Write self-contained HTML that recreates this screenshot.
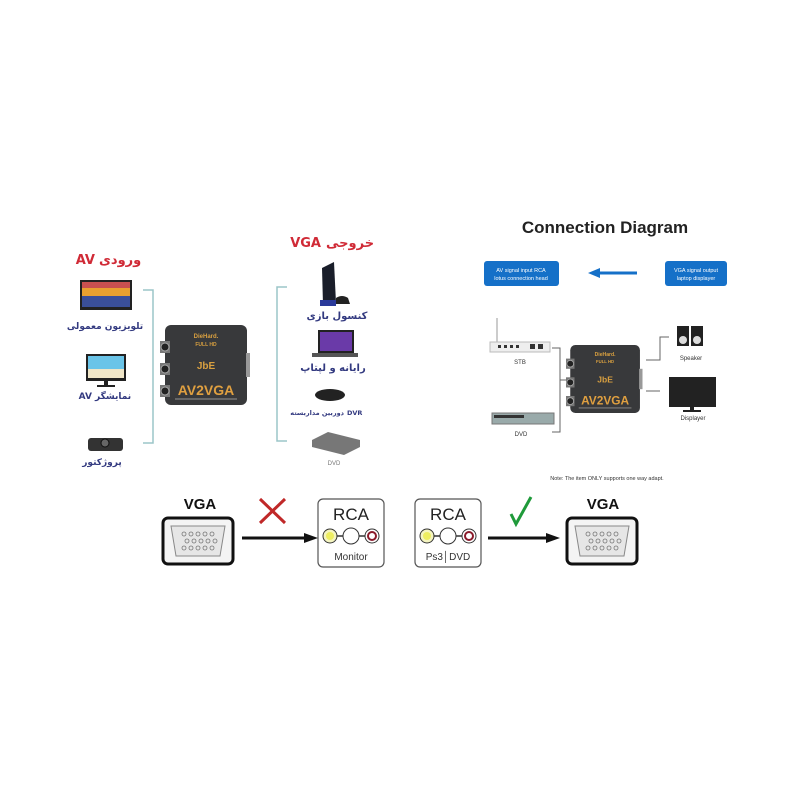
<!DOCTYPE html>
<html><head><meta charset="utf-8"><style>
html,body{margin:0;padding:0;background:#fff;width:800px;height:800px;overflow:hidden}
svg{display:block}
text{font-family:"Liberation Sans","Noto Sans CJK SC",sans-serif}
.fa{font-family:"DejaVu Sans","Liberation Sans",sans-serif;font-weight:bold}
</style></head><body>
<svg width="800" height="800" viewBox="0 0 800 800" xmlns="http://www.w3.org/2000/svg">
<defs>
<g id="dev">
  <rect x="5" y="0" width="82" height="80" rx="6" fill="#38393b"/>
  <rect x="0" y="16" width="10" height="12" fill="#777"/><circle cx="5" cy="22" r="4" fill="#222" stroke="#aaa"/>
  <rect x="0" y="38" width="10" height="12" fill="#777"/><circle cx="5" cy="44" r="4" fill="#222" stroke="#aaa"/>
  <rect x="0" y="60" width="10" height="12" fill="#777"/><circle cx="5" cy="66" r="4" fill="#222" stroke="#aaa"/>
  <rect x="86" y="28" width="4" height="24" fill="#999"/>
  <text x="46" y="13" font-size="6" fill="#d9a040" text-anchor="middle" font-weight="bold">DieHard.</text>
  <text x="46" y="21" font-size="5" fill="#d9a040" text-anchor="middle" font-weight="bold">FULL HD</text>
  <text x="46" y="44" font-size="10" fill="#d9a040" text-anchor="middle" font-weight="bold">JbE</text>
  <text x="46" y="70" font-size="14" fill="#e0a040" text-anchor="middle" font-weight="bold">AV2VGA</text>
  <rect x="15" y="73" width="62" height="2" fill="#666"/>
</g>
<g id="vga">
  <rect x="0" y="0" width="70" height="46" rx="5" fill="#f4f4f4" stroke="#111" stroke-width="3"/>
  <path d="M8 8 H62 L57 38 H13 Z" fill="#e6e6e6" stroke="#888"/>
  <g fill="none" stroke="#777" stroke-width="0.8">
   <circle cx="21" cy="16" r="2"/><circle cx="28" cy="16" r="2"/><circle cx="35" cy="16" r="2"/><circle cx="42" cy="16" r="2"/><circle cx="49" cy="16" r="2"/>
   <circle cx="24" cy="23" r="2"/><circle cx="31" cy="23" r="2"/><circle cx="38" cy="23" r="2"/><circle cx="45" cy="23" r="2"/><circle cx="52" cy="23" r="2"/>
   <circle cx="21" cy="30" r="2"/><circle cx="28" cy="30" r="2"/><circle cx="35" cy="30" r="2"/><circle cx="42" cy="30" r="2"/><circle cx="49" cy="30" r="2"/>
  </g>
</g>
<g id="rca">
  <rect x="0" y="0" width="66" height="68" rx="5" fill="#fff" stroke="#555" stroke-width="1.2"/>
  <text x="33" y="21" font-size="17" fill="#222" text-anchor="middle">RCA</text>
  <line x1="12" y1="37" x2="54" y2="37" stroke="#333" stroke-width="1.5"/>
  <circle cx="12" cy="37" r="7" fill="#f5f5c0" stroke="#333"/><circle cx="12" cy="37" r="4" fill="#eeee60"/>
  <circle cx="33" cy="37" r="8" fill="#fff" stroke="#333"/>
  <circle cx="54" cy="37" r="7" fill="#fff" stroke="#333"/><circle cx="54" cy="37" r="4" fill="#fff" stroke="#8a1a2a" stroke-width="2"/>
</g>
</defs>

<!-- LEFT SECTION -->
<text x="95" y="264" class="fa" font-size="13" fill="#d02a36" text-anchor="end">AV</text>
<text x="99" y="264" class="fa" font-size="13" fill="#d02a36" text-anchor="start">ورودی</text>
<text x="321" y="247" class="fa" font-size="13" fill="#d02a36" text-anchor="end">VGA</text>
<text x="326" y="247" class="fa" font-size="13" fill="#d02a36" text-anchor="start">خروجی</text>

<!-- TV -->
<rect x="80" y="280" width="52" height="30" fill="#222"/>
<rect x="82" y="282" width="48" height="25" fill="#e8a030"/>
<rect x="82" y="296" width="48" height="11" fill="#3a4f9a"/>
<rect x="82" y="282" width="48" height="6" fill="#c85050"/>
<text x="105" y="329" class="fa" font-size="9" fill="#333a80" text-anchor="middle">تلویزیون معمولی</text>
<!-- Monitor -->
<rect x="86" y="354" width="40" height="27" fill="#222"/>
<rect x="88" y="356" width="36" height="22" fill="#6ac4e8"/>
<rect x="88" y="369" width="36" height="9" fill="#f0e6c8"/>
<rect x="104" y="381" width="4" height="4" fill="#222"/><rect x="97" y="385" width="18" height="2" fill="#222"/>
<text x="92" y="399" class="fa" font-size="9" fill="#333a80" text-anchor="end">AV</text>
<text x="95" y="399" class="fa" font-size="9" fill="#333a80" text-anchor="start">نمایشگر</text>
<!-- projector -->
<rect x="88" y="438" width="35" height="13" rx="3" fill="#333"/>
<circle cx="105" cy="443" r="4" fill="#666" stroke="#111"/>
<text x="102" y="465" class="fa" font-size="9" fill="#333a80" text-anchor="middle">پروژکتور</text>

<polyline points="143,290 153,290 153,443 143,443" fill="none" stroke="#9bc5c8" stroke-width="1.5"/>
<use href="#dev" x="160" y="325"/>
<polyline points="287,287 277,287 277,441 287,441" fill="none" stroke="#9bc5c8" stroke-width="1.5"/>

<!-- PS -->
<path d="M322 268 L334 262 L336 303 L323 305 Z" fill="#1a1e2a"/>
<rect x="320" y="300" width="16" height="6" fill="#2a3a9a"/>
<path d="M336 298 q6 -4 12 0 l2 6 h-14 Z" fill="#222"/>
<text x="337" y="319" class="fa" font-size="10" fill="#333a80" text-anchor="middle">کنسول بازی</text>
<!-- laptop -->
<rect x="318" y="330" width="36" height="23" fill="#222"/>
<rect x="320" y="332" width="32" height="19" fill="#6a3aa8"/>
<rect x="312" y="353" width="46" height="4" fill="#555"/>
<text x="333" y="371" class="fa" font-size="10" fill="#333a80" text-anchor="middle">رایانه و لپتاپ</text>
<!-- receiver -->
<ellipse cx="330" cy="395" rx="15" ry="6" fill="#222"/>
<text x="344" y="415" class="fa" font-size="6.5" fill="#333a80" text-anchor="end">دوربین مداربسته</text>
<text x="347" y="415" class="fa" font-size="6.5" fill="#333a80" text-anchor="start">DVR</text>
<!-- DVD -->
<path d="M312 440 L328 432 L360 440 L360 447 L344 455 L312 447 Z" fill="#777"/>
<text x="334" y="465" font-size="6" fill="#777" text-anchor="middle">DVD</text>

<!-- RIGHT SECTION -->
<text x="605" y="233" font-size="17" font-weight="bold" fill="#222" text-anchor="middle">Connection Diagram</text>
<rect x="484" y="261" width="75" height="25" rx="3" fill="#1570c8"/>
<text x="521" y="272" font-size="5.5" fill="#fff" text-anchor="middle">AV signal input RCA</text>
<text x="521" y="280" font-size="5.5" fill="#fff" text-anchor="middle">lotus connection head</text>
<rect x="665" y="261" width="62" height="25" rx="3" fill="#1570c8"/>
<text x="696" y="272" font-size="5.5" fill="#fff" text-anchor="middle">VGA signal output</text>
<text x="696" y="280" font-size="5.5" fill="#fff" text-anchor="middle">laptop displayer</text>
<line x1="598" y1="273" x2="637" y2="273" stroke="#1570c8" stroke-width="3"/>
<polygon points="588,273 600,268 600,278" fill="#1570c8"/>

<!-- STB -->
<rect x="496" y="318" width="2" height="26" fill="#ccc"/>
<rect x="490" y="342" width="60" height="10" fill="#eee" stroke="#bbb"/>
<g fill="#333"><rect x="498" y="345" width="3" height="3"/><rect x="504" y="345" width="3" height="3"/><rect x="510" y="345" width="3" height="3"/><rect x="516" y="345" width="3" height="3"/><rect x="530" y="344" width="5" height="5"/><rect x="538" y="344" width="5" height="5"/></g>
<text x="520" y="364" font-size="6" fill="#333" text-anchor="middle">STB</text>
<!-- DVD -->
<rect x="492" y="413" width="62" height="11" fill="#9aa" stroke="#777"/>
<rect x="494" y="415" width="30" height="3" fill="#333"/>
<text x="521" y="436" font-size="6" fill="#333" text-anchor="middle">DVD</text>
<polyline points="552,348 560,348 560,432 552,432" fill="none" stroke="#666" stroke-width="1"/>
<line x1="560" y1="380" x2="566" y2="380" stroke="#666" stroke-width="1"/>
<use href="#dev" x="566" y="345" transform="translate(566 345) scale(0.85) translate(-566 -345)"/>
<!-- speaker -->
<polyline points="646,360 660,360 660,337 669,337" fill="none" stroke="#666"/>
<rect x="677" y="326" width="12" height="20" fill="#222"/><circle cx="683" cy="340" r="4" fill="#ddd"/>
<rect x="691" y="326" width="12" height="20" fill="#222"/><circle cx="697" cy="340" r="4" fill="#ddd"/>
<text x="691" y="360" font-size="6" fill="#333" text-anchor="middle">Speaker</text>
<!-- displayer -->
<line x1="646" y1="391" x2="660" y2="391" stroke="#666"/>
<rect x="669" y="377" width="47" height="30" fill="#222"/>
<rect x="690" y="407" width="4" height="4" fill="#222"/><rect x="683" y="410" width="18" height="2" fill="#222"/>
<text x="693" y="420" font-size="6" fill="#333" text-anchor="middle">Displayer</text>
<text x="607" y="480" font-size="5.5" fill="#333" text-anchor="middle">Note: The item ONLY supports one way adapt.</text>

<!-- BOTTOM -->
<text x="200" y="509" font-size="15" font-weight="bold" fill="#111" text-anchor="middle">VGA</text>
<use href="#vga" x="163" y="518"/>
<line x1="242" y1="538" x2="306" y2="538" stroke="#111" stroke-width="3"/>
<polygon points="318,538 304,533 304,543" fill="#111"/>
<path d="M260 499 L285 523 M285 499 L260 523" stroke="#c02828" stroke-width="3"/>
<use href="#rca" x="318" y="499"/>
<text x="351" y="560" font-size="10" fill="#333" text-anchor="middle">Monitor</text>
<use href="#rca" x="415" y="499"/>
<text x="448" y="560" font-size="10" fill="#333" text-anchor="middle">Ps3│DVD</text>
<path d="M511 514 L516 524 L531 497" fill="none" stroke="#1f9a3a" stroke-width="3"/>
<line x1="488" y1="538" x2="548" y2="538" stroke="#111" stroke-width="3"/>
<polygon points="560,538 546,533 546,543" fill="#111"/>
<text x="603" y="509" font-size="15" font-weight="bold" fill="#111" text-anchor="middle">VGA</text>
<use href="#vga" x="567" y="518"/>
</svg>
</body></html>
